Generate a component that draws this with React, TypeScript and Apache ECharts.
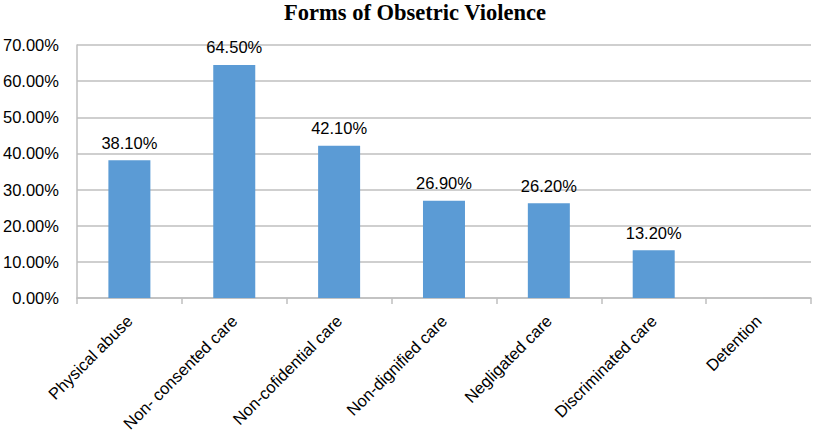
import React, { useEffect, useRef } from "react";
import * as echarts from "echarts";

const categories = [
  "Physical abuse",
  "Non- consented care",
  "Non-cofidential care",
  "Non-dignified care",
  "Negligated care",
  "Discriminated care",
  "Detention",
];
const values = [38.1, 64.5, 42.1, 26.9, 26.2, 13.2, 0];
const titleText = "Forms of Obsetric Violence";

export default function App() {
  const ref = useRef<HTMLDivElement>(null);
  useEffect(() => {
    const chart = echarts.init(ref.current!, null, { renderer: "svg" });
    chart.setOption({
      animation: false,
      backgroundColor: "#ffffff",
      title: {
        text: titleText,
        left: 410,
        textAlign: "center",
        top: -4,
        textStyle: {
          fontFamily: "Liberation Serif",
          fontWeight: "bold",
          fontSize: 22.5,
          color: "#000",
        },
      },
      grid: { left: 74, right: 2, top: 45, bottom: 137, containLabel: false },
      xAxis: {
        type: "category",
        data: categories,
        axisLine: { show: true, lineStyle: { color: "#bfbfbf", width: 1.5 } },
        axisTick: { show: true, alignWithLabel: false, length: 6, lineStyle: { color: "#bfbfbf", width: 1.5 } },
        axisLabel: {
          rotate: 45,
          interval: 0,
          margin: 20,
          fontFamily: "Liberation Sans",
          fontSize: 16.5,
          color: "#000",
        },
        splitLine: { show: false },
      },
      yAxis: {
        type: "value",
        min: 0,
        max: 70,
        interval: 10,
        axisLine: { show: true, lineStyle: { color: "#bfbfbf", width: 1.5 } },
        axisTick: { show: false },
        axisLabel: {
          formatter: (v: number) => v.toFixed(2) + "%",
          margin: 18,
          fontFamily: "Liberation Sans",
          fontSize: 16.5,
          color: "#000",
        },
        splitLine: { show: true, lineStyle: { color: "#bfbfbf", width: 1.5 } },
      },
      series: [
        {
          type: "bar",
          data: values.map((v) => (v === 0 ? null : v)),
          barWidth: 42,
          itemStyle: { color: "#5b9bd5" },
          label: {
            show: true,
            position: "top",
            distance: 9,
            formatter: (p: any) => Number(p.value).toFixed(2) + "%",
            fontFamily: "Liberation Sans",
            fontSize: 16.5,
            color: "#000",
          },
        },
      ],
    });
    return () => chart.dispose();
  }, []);
  return <div ref={ref} style={{ width: 813, height: 435, position: "absolute", left: 0, top: 0 }} />;
}
